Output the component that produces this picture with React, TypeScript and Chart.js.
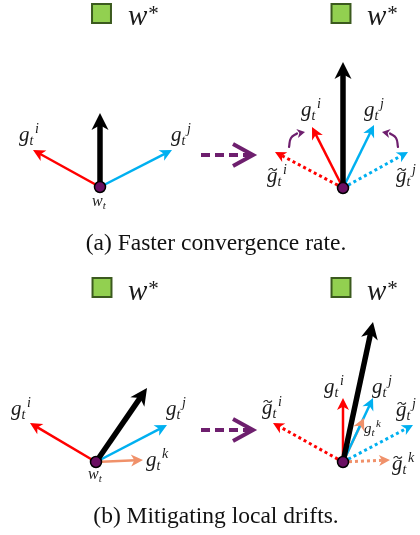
import React, { useEffect, useRef } from "react";
import { Chart, registerables } from "chart.js";

Chart.register(...registerables);

const W = 420;
const H = 535;

// Figure space: x to the right, y downwards (0..420 x 0..535)
const origins: number[][] = [[100, 187], [343, 188], [96, 462], [343, 462]];
const optimumMarkers: number[][] = [[101.5, 13.5], [341, 13.5], [102, 287.5], [341, 287.5]];
const globalTips: number[][] = [[100, 113], [343, 62], [147, 388], [373, 322]];
const gradITips: (number[] | null)[] = [[33, 150], [312, 127], [30, 423], [343, 398]];
const gradJTips: (number[] | null)[] = [[172, 150], [374, 125], [167, 425], [373, 398]];
const gradKTips: (number[] | null)[] = [null, null, [143, 460], [364, 418]];
const corrITips: (number[] | null)[] = [null, [275, 152], null, [273, 423]];
const corrJTips: (number[] | null)[] = [null, [408, 152], null, [413, 425]];
const corrKTips: (number[] | null)[] = [null, null, null, [390, 460]];
const transitionArrows: number[][] = [[201, 155, 255, 155], [201, 430, 255, 430]];
const rotationCurves: number[][][] = [
  [[289, 147], [291, 138], [297, 133.5], [305, 132]],
  [[398, 147], [396, 138], [390, 133.5], [382, 132]],
];

// Text annotations
const captions = ["(a) Faster convergence rate.", "(b) Mitigating local drifts."];
const captionAnchors: number[][] = [[216, 250], [216, 523]];
const optimumLabelAnchors: number[][] = [[128, 25], [367, 25], [128, 300], [367, 300]];
type MathLabel = { x: number; y: number; base: string; sub: string; sup: string; tilde?: boolean; small?: boolean };
const mathLabels: MathLabel[] = [
  { x: 19, y: 141, base: "g", sub: "t", sup: "i" },
  { x: 171, y: 141, base: "g", sub: "t", sup: "j" },
  { x: 92, y: 206, base: "w", sub: "t", sup: "", small: true },
  { x: 301, y: 116, base: "g", sub: "t", sup: "i" },
  { x: 364, y: 116, base: "g", sub: "t", sup: "j" },
  { x: 267, y: 182, base: "g", sub: "t", sup: "i", tilde: true },
  { x: 396, y: 182, base: "g", sub: "t", sup: "j", tilde: true },
  { x: 11, y: 415, base: "g", sub: "t", sup: "i" },
  { x: 166, y: 415, base: "g", sub: "t", sup: "j" },
  { x: 146, y: 466, base: "g", sub: "t", sup: "k" },
  { x: 88, y: 479, base: "w", sub: "t", sup: "", small: true },
  { x: 324, y: 393, base: "g", sub: "t", sup: "i" },
  { x: 372, y: 393, base: "g", sub: "t", sup: "j" },
  { x: 364, y: 433, base: "g", sub: "t", sup: "k", small: true },
  { x: 262, y: 414, base: "g", sub: "t", sup: "i", tilde: true },
  { x: 396, y: 416, base: "g", sub: "t", sup: "j", tilde: true },
  { x: 392, y: 470, base: "g", sub: "t", sup: "k", tilde: true },
];

const RED = "#ff0000";
const BLUE = "#00b0f0";
const SALMON = "#f0916a";
const PURPLE = "#6e1f6e";
const MATH_FONT = "'Liberation Serif', 'DejaVu Serif', serif";

function shorten(a: number[], b: number[], d: number): number[] {
  const dx = b[0] - a[0];
  const dy = b[1] - a[1];
  const L = Math.hypot(dx, dy);
  return [b[0] - (dx / L) * d, b[1] - (dy / L) * d];
}

const pt = (p: number[]) => ({ x: p[0], y: p[1] });

function buildDatasets(): any[] {
  const ds: any[] = [];
  ds.push({
    label: "w_t",
    data: origins.map(pt),
    showLine: false,
    pointStyle: "circle",
    pointRadius: 5.5,
    backgroundColor: "#6a0f62",
    borderColor: "#000",
    borderWidth: 1.5,
    order: 0,
    clip: false,
  });
  ds.push({
    label: "w*",
    data: optimumMarkers.map(pt),
    showLine: false,
    pointStyle: "rect",
    pointRadius: 13.4,
    backgroundColor: "#92d050",
    borderColor: "#3b5a1e",
    borderWidth: 2,
    order: 0,
    clip: false,
  });
  const addArrow = (from: number[], tip: number[], color: string, width: number, headLen: number, headW: number, dash: number[] | null, order: number) => {
    const end = shorten(from, tip, headLen * 0.6);
    ds.push({
      data: [pt(from), pt(end)],
      showLine: true,
      pointRadius: 0,
      borderColor: color,
      borderWidth: width,
      borderDash: dash || [],
      borderCapStyle: "butt",
      fill: false,
      order,
      clip: false,
      head: { tip, headLen, headW, color, kind: "stealth" },
    });
  };
  for (let i = 0; i < 4; i++) {
    const o = origins[i];
    const ci = corrITips[i], cj = corrJTips[i], ck = corrKTips[i];
    if (ci) addArrow(o, ci, RED, 3, 11, 5.5, [3, 3], 5);
    if (cj) addArrow(o, cj, BLUE, 3, 11, 5.5, [3, 3], 5);
    if (ck) addArrow(o, ck, SALMON, 3, 11, 5.5, [3, 3], 5);
    const gi = gradITips[i], gj = gradJTips[i], gk = gradKTips[i];
    if (gi) addArrow(o, gi, RED, 2.5, 12, 6, null, 4);
    if (gj) addArrow(o, gj, BLUE, 2.5, 12, 6, null, 4);
    if (gk) addArrow(o, gk, SALMON, 2.5, 12, 6, null, 4);
    addArrow(o, globalTips[i], "#000", 5.5, 17, 8.5, null, 3);
  }
  for (const t of transitionArrows) {
    const from = [t[0], t[1]];
    const tip = [t[2], t[3]];
    ds.push({
      data: [pt(from), pt(shorten(from, tip, 4))],
      showLine: true,
      pointRadius: 0,
      borderColor: PURPLE,
      borderWidth: 4,
      borderDash: [9, 5],
      borderCapStyle: "butt",
      order: 2,
      clip: false,
      head: { tip, headLen: 22, headW: 11, color: PURPLE, kind: "chevron" },
    });
  }
  for (const c of rotationCurves) {
    ds.push({
      data: c.slice(0, 3).map(pt),
      showLine: true,
      tension: 0.45,
      pointRadius: 0,
      borderColor: PURPLE,
      borderWidth: 2.2,
      borderCapStyle: "round",
      order: 2,
      clip: false,
      head: { tip: c[3], headLen: 8, headW: 4.5, color: PURPLE, kind: "stealth" },
    });
  }
  return ds;
}

function drawMathLabel(ctx: CanvasRenderingContext2D, l: MathLabel, x: number, y: number) {
  const baseSize = l.small ? (l.base === "w" ? 16 : 15) : 21;
  const scriptSize = l.small ? 11 : 14;
  ctx.fillStyle = "#1a1a1a";
  ctx.textBaseline = "alphabetic";
  ctx.textAlign = "left";
  ctx.font = `italic ${baseSize}px ${MATH_FONT}`;
  ctx.fillText(l.base, x, y);
  const bw = ctx.measureText(l.base).width;
  if (l.tilde) {
    const cx = x + bw / 2 + 0.5;
    const ty = y - baseSize * 0.6;
    const hw = 4.2;
    ctx.save();
    ctx.strokeStyle = "#1a1a1a";
    ctx.lineWidth = 1.1;
    ctx.beginPath();
    ctx.moveTo(cx - hw, ty + 0.8);
    ctx.bezierCurveTo(cx - hw / 2, ty - 2.2, cx, ty - 0.5, cx, ty);
    ctx.bezierCurveTo(cx, ty + 0.5, cx + hw / 2, ty + 2.2, cx + hw, ty - 0.8);
    ctx.stroke();
    ctx.restore();
  }
  ctx.font = `italic ${scriptSize}px ${MATH_FONT}`;
  const subX = x + bw;
  ctx.fillText(l.sub, subX, y + baseSize * 0.2);
  const sw = ctx.measureText(l.sub).width;
  if (l.sup) ctx.fillText(l.sup, subX + sw + 1.5, y - baseSize * 0.4);
}

const arrowPlugin = {
  id: "arrowHeads",
  afterDatasetsDraw(chart: any) {
    const ctx: CanvasRenderingContext2D = chart.ctx;
    const xs = chart.scales.x;
    const ys = chart.scales.y;
    chart.data.datasets.forEach((ds: any) => {
      if (!ds.head) return;
      const h = ds.head;
      const last = ds.data[ds.data.length - 1];
      const tx = xs.getPixelForValue(h.tip[0]);
      const ty = ys.getPixelForValue(h.tip[1]);
      const lx = xs.getPixelForValue(last.x);
      const ly = ys.getPixelForValue(last.y);
      let ux = tx - lx;
      let uy = ty - ly;
      const L = Math.hypot(ux, uy) || 1;
      ux /= L;
      uy /= L;
      const nx = -uy;
      const ny = ux;
      ctx.save();
      if (h.kind === "chevron") {
        ctx.strokeStyle = h.color;
        ctx.lineWidth = 4;
        ctx.lineJoin = "miter";
        ctx.lineCap = "butt";
        ctx.beginPath();
        ctx.moveTo(tx - ux * h.headLen + nx * h.headW, ty - uy * h.headLen + ny * h.headW);
        ctx.lineTo(tx - ux * 2, ty - uy * 2);
        ctx.lineTo(tx - ux * h.headLen - nx * h.headW, ty - uy * h.headLen - ny * h.headW);
        ctx.stroke();
      } else {
        ctx.fillStyle = h.color;
        ctx.beginPath();
        ctx.moveTo(tx, ty);
        ctx.lineTo(tx - ux * h.headLen + nx * h.headW, ty - uy * h.headLen + ny * h.headW);
        ctx.lineTo(tx - ux * h.headLen * 0.72, ty - uy * h.headLen * 0.72);
        ctx.lineTo(tx - ux * h.headLen - nx * h.headW, ty - uy * h.headLen - ny * h.headW);
        ctx.closePath();
        ctx.fill();
      }
      ctx.restore();
    });
  },
  afterDraw(chart: any) {
    const ctx: CanvasRenderingContext2D = chart.ctx;
    const xs = chart.scales.x;
    const ys = chart.scales.y;
    ctx.save();
    for (const l of mathLabels) {
      drawMathLabel(ctx, l, xs.getPixelForValue(l.x), ys.getPixelForValue(l.y));
    }
    for (const a of optimumLabelAnchors) {
      const x = xs.getPixelForValue(a[0]);
      const y = ys.getPixelForValue(a[1]);
      ctx.fillStyle = "#1a1a1a";
      ctx.textAlign = "left";
      ctx.textBaseline = "alphabetic";
      ctx.font = `italic 29px ${MATH_FONT}`;
      ctx.fillText("w", x, y);
      const w = ctx.measureText("w").width;
      ctx.font = `21px ${MATH_FONT}`;
      ctx.fillText("*", x + w + 1, y - 5);
    }
    captions.forEach((c, i) => {
      ctx.fillStyle = "#111";
      ctx.textAlign = "center";
      ctx.textBaseline = "alphabetic";
      ctx.font = `23.5px 'Liberation Serif', 'Times New Roman', serif`;
      ctx.fillText(c, xs.getPixelForValue(captionAnchors[i][0]), ys.getPixelForValue(captionAnchors[i][1]));
    });
    ctx.restore();
  },
};

export default function App() {
  const ref = useRef<HTMLCanvasElement | null>(null);
  useEffect(() => {
    if (!ref.current) return;
    const chart = new Chart(ref.current, {
      type: "scatter",
      data: { datasets: buildDatasets() },
      options: {
        animation: false,
        responsive: false,
        devicePixelRatio: 1,
        layout: { padding: 0, autoPadding: false },
        events: [],
        elements: { line: { tension: 0 } },
        plugins: { legend: { display: false }, tooltip: { enabled: false }, title: { display: false } },
        scales: {
          x: { type: "linear", min: 0, max: W, display: false },
          y: { type: "linear", min: 0, max: H, reverse: true, display: false },
        },
      } as any,
      plugins: [arrowPlugin],
    });
    return () => chart.destroy();
  }, []);
  return (
    <div style={{ position: "absolute", left: 0, top: 0, width: W, height: H, background: "#fff" }}>
      <canvas ref={ref} width={W} height={H} style={{ width: W, height: H, display: "block" }} />
    </div>
  );
}
